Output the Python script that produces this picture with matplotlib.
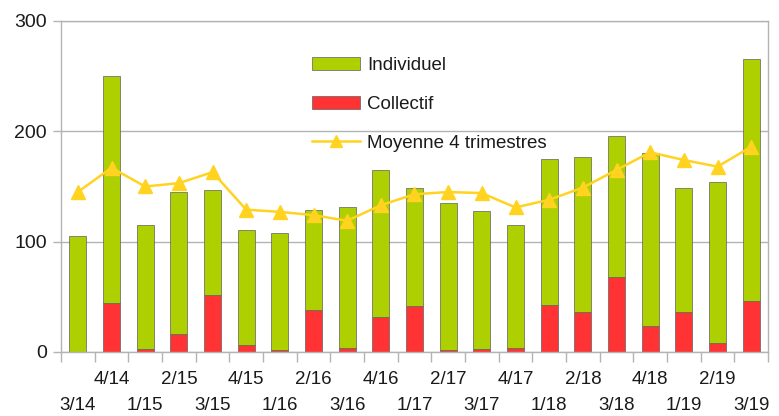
import matplotlib
matplotlib.use("Agg")
import matplotlib.pyplot as plt
import matplotlib.transforms as mtransforms
import numpy as np

plt.rcParams['font.family'] = ['Liberation Sans', 'DejaVu Sans']

categories = ["3/14", "4/14", "1/15", "2/15", "3/15", "4/15", "1/16", "2/16", "3/16", "4/16",
              "1/17", "2/17", "3/17", "4/17", "1/18", "2/18", "3/18", "4/18", "1/19", "2/19", "3/19"]
collectif = [0, 44, 3, 16, 52, 6, 2, 38, 4, 32, 42, 2, 3, 4, 43, 36, 68, 24, 36, 8, 46]
individuel = [105, 206, 112, 129, 95, 105, 106, 91, 127, 133, 107, 133, 125, 111, 132, 141, 128, 156, 113, 146, 220]
moyenne = [145, 167, 150, 153, 163, 129, 127, 124, 119, 133, 143, 145, 144, 131, 138, 149, 165, 181, 174, 168, 186]
yticks = [0, 100, 200, 300]

GREEN = "#aecf00"
RED = "#ff3333"
YELLOW = "#ffd320"
GRID = "#b3b3b3"
EDGE = "#5f5f5f"

W, H = 779, 416
fig = plt.figure(figsize=(W / 100, H / 100), dpi=100)
ax = fig.add_axes([61 / W, 1 - 352 / H, (768 - 61) / W, (352 - 21) / H])

x = np.arange(len(categories))
ax.bar(x, collectif, width=0.5, color=RED, edgecolor=EDGE, linewidth=0.5, label="Collectif", zorder=2)
ax.bar(x, individuel, width=0.5, bottom=collectif, color=GREEN, edgecolor=EDGE, linewidth=0.5,
       label="Individuel", zorder=2)
ax.plot(x, moyenne, color=YELLOW, linewidth=1.8, marker="^", markersize=10,
        label="Moyenne 4 trimestres", zorder=3)

ax.set_xlim(-0.5, len(categories) - 0.5)
ax.set_ylim(0, 300)
ax.set_yticks(yticks)
ax.set_yticklabels([str(v) for v in yticks], fontsize=14, color="#1a1a1a")
ax.yaxis.grid(True, color=GRID, linewidth=1, zorder=0)
ax.set_axisbelow(True)

# x ticks: marks at boundaries, labels in two rows
ax.set_xticks(np.arange(-0.5, len(categories) + 0.5, 1.0))
ax.set_xticklabels([])
ax.tick_params(axis="x", length=7, color=GRID, width=1)
ax.tick_params(axis="y", length=6, color=GRID, width=1, pad=4)
for s in ax.spines.values():
    s.set_color(GRID)
    s.set_linewidth(1)

base = ax.get_xaxis_transform()
for i, lab in enumerate(categories):
    off = -19 if i % 2 == 1 else -45
    tr = mtransforms.offset_copy(base, fig=fig, x=0, y=off, units="dots")
    ax.text(i, 0, lab, transform=tr, ha="center", va="top", fontsize=13.5, color="#1a1a1a")

handles, labels = ax.get_legend_handles_labels()
order = [labels.index("Individuel"), labels.index("Collectif"), labels.index("Moyenne 4 trimestres")]
leg = fig.legend([handles[i] for i in order], [labels[i] for i in order],
                 loc="upper left", bbox_to_anchor=(312 / W, 1 - 57 / H), bbox_transform=fig.transFigure,
                 frameon=False, fontsize=13.5, borderpad=0, borderaxespad=0,
                 handlelength=2.55, handleheight=0.7, handletextpad=0.4, labelspacing=1.15,
                 markerscale=0.85)
for t in leg.get_texts():
    t.set_color("#1a1a1a")

fig.savefig("out.png", dpi=100)
